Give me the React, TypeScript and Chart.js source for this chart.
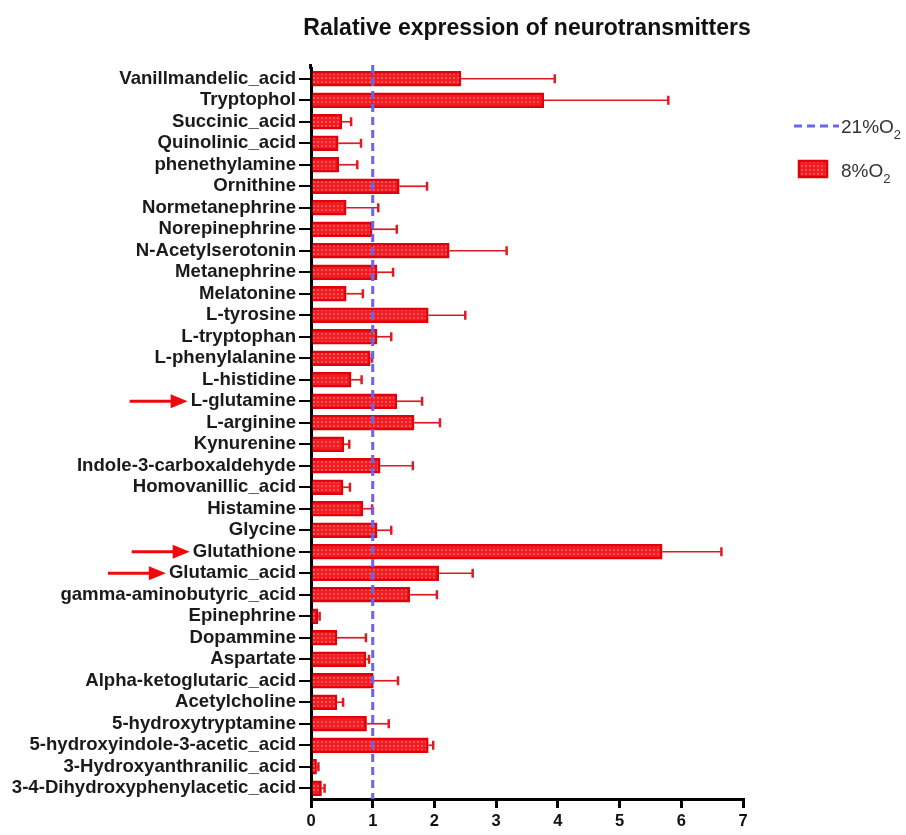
import React, { useEffect, useRef } from "react";
import { Chart, registerables } from "chart.js";

Chart.register(...registerables);

const categories = [
  "Vanillmandelic_acid",
  "Tryptophol",
  "Succinic_acid",
  "Quinolinic_acid",
  "phenethylamine",
  "Ornithine",
  "Normetanephrine",
  "Norepinephrine",
  "N-Acetylserotonin",
  "Metanephrine",
  "Melatonine",
  "L-tyrosine",
  "L-tryptophan",
  "L-phenylalanine",
  "L-histidine",
  "L-glutamine",
  "L-arginine",
  "Kynurenine",
  "Indole-3-carboxaldehyde",
  "Homovanillic_acid",
  "Histamine",
  "Glycine",
  "Glutathione",
  "Glutamic_acid",
  "gamma-aminobutyric_acid",
  "Epinephrine",
  "Dopammine",
  "Aspartate",
  "Alpha-ketoglutaric_acid",
  "Acetylcholine",
  "5-hydroxytryptamine",
  "5-hydroxyindole-3-acetic_acid",
  "3-Hydroxyanthranilic_acid",
  "3-4-Dihydroxyphenylacetic_acid",
];

const means = [
  2.43, 3.77, 0.5, 0.44, 0.45, 1.43, 0.57, 0.99, 2.24, 1.07, 0.57, 1.9, 1.07,
  0.96, 0.65, 1.39, 1.67, 0.53, 1.12, 0.52, 0.84, 1.07, 5.69, 2.07, 1.6, 0.11,
  0.42, 0.89, 1.01, 0.42, 0.9, 1.9, 0.09, 0.17,
];

const upperErr = [
  3.95, 5.79, 0.65, 0.81, 0.75, 1.88, 1.09, 1.39, 3.17, 1.33, 0.84, 2.5, 1.3,
  0.99, 0.82, 1.8, 2.09, 0.62, 1.65, 0.63, 0.99, 1.3, 6.65, 2.62, 2.04, 0.14,
  0.89, 0.94, 1.41, 0.52, 1.26, 1.98, 0.12, 0.22,
];

const xTicks = [0, 1, 2, 3, 4, 5, 6, 7];
const controlValue = 1;
const arrowLabels = ["L-glutamine", "Glutathione", "Glutamic_acid"];
const titleText = "Ralative expression of neurotransmitters";
const legendControl = "21%O";
const legendTreated = "8%O";

const FONT = "'Liberation Sans', Arial, Helvetica, sans-serif";
const BLUE = "#6666ee";
const RED_BORDER = "#e2000a";
const ERR_RED = "#e01a22";

function makePattern(): CanvasPattern | string {
  const c = document.createElement("canvas");
  c.width = 4;
  c.height = 4;
  const g = c.getContext("2d");
  if (!g) return "#f21c22";
  g.fillStyle = "#f21c22";
  g.fillRect(0, 0, 4, 4);
  g.fillStyle = "#ff5252";
  g.fillRect(1, 1, 2, 2);
  const p = g.createPattern(c, "repeat");
  return p || "#f21c22";
}

export default function App() {
  const ref = useRef<HTMLCanvasElement | null>(null);

  useEffect(() => {
    if (!ref.current) return;
    const pattern = makePattern();
    const tickLen = 12;
    const tickPad = 3;
    const labelFont = { family: FONT, size: 18.6, weight: "bold" as const };

    const overlay = {
      id: "overlay",
      afterDatasetsDraw(chart: any) {
        const ctx = chart.ctx;
        const xs = chart.scales.x;
        const meta = chart.getDatasetMeta(0);
        const area = chart.chartArea;
        ctx.save();
        // small extension of the y axis line above the first band
        ctx.strokeStyle = "#000";
        ctx.lineWidth = 3;
        ctx.beginPath();
        ctx.moveTo(area.left - 0.5, area.top - 4);
        ctx.lineTo(area.left - 0.5, area.top + 1);
        ctx.stroke();
        // error bars
        ctx.strokeStyle = ERR_RED;
        for (let i = 0; i < means.length; i++) {
          const el = meta.data[i];
          if (!el) continue;
          const y = el.y;
          const x0 = xs.getPixelForValue(means[i]);
          const x1 = xs.getPixelForValue(upperErr[i]);
          ctx.lineWidth = 1.7;
          ctx.beginPath();
          ctx.moveTo(x0, y);
          ctx.lineTo(x1, y);
          ctx.stroke();
          ctx.lineWidth = 2.5;
          ctx.beginPath();
          ctx.moveTo(x1, y - 4.5);
          ctx.lineTo(x1, y + 4.5);
          ctx.stroke();
        }
        // dashed control line
        const cx = xs.getPixelForValue(controlValue);
        ctx.strokeStyle = BLUE;
        ctx.lineWidth = 3;
        ctx.setLineDash([8, 5]);
        ctx.beginPath();
        ctx.moveTo(cx, area.top - 3);
        ctx.lineTo(cx, area.bottom);
        ctx.stroke();
        ctx.setLineDash([]);
        ctx.restore();
      },
      afterDraw(chart: any) {
        const ctx = chart.ctx;
        const area = chart.chartArea;
        const ys = chart.scales.y;
        ctx.save();
        // title
        ctx.fillStyle = "#111";
        ctx.font = `bold 23px ${FONT}`;
        ctx.textAlign = "center";
        ctx.textBaseline = "alphabetic";
        ctx.fillText(titleText, (area.left + area.right) / 2, 35);

        // arrows
        ctx.font = `bold ${labelFont.size}px ${FONT}`;
        const labelRight = area.left - tickLen - tickPad;
        ctx.fillStyle = "#ee0a0a";
        ctx.strokeStyle = "#ee0a0a";
        for (const lab of arrowLabels) {
          const idx = categories.indexOf(lab);
          if (idx < 0) continue;
          const y = ys.getPixelForValue(idx);
          const w = ctx.measureText(lab).width;
          const tip = labelRight - w - 3;
          const headLen = 17;
          const total = 58;
          ctx.lineWidth = 3;
          ctx.beginPath();
          ctx.moveTo(tip - total, y);
          ctx.lineTo(tip - headLen + 2, y);
          ctx.stroke();
          ctx.beginPath();
          ctx.moveTo(tip, y);
          ctx.lineTo(tip - headLen, y - 7);
          ctx.lineTo(tip - headLen, y + 7);
          ctx.closePath();
          ctx.fill();
        }

        // legend
        ctx.textAlign = "left";
        ctx.strokeStyle = BLUE;
        ctx.lineWidth = 3;
        ctx.setLineDash([8, 5]);
        ctx.beginPath();
        ctx.moveTo(794, 126);
        ctx.lineTo(839, 126);
        ctx.stroke();
        ctx.setLineDash([]);
        ctx.fillStyle = "#333";
        ctx.font = `19px ${FONT}`;
        ctx.fillText(legendControl, 841, 133);
        const w1 = ctx.measureText(legendControl).width;
        ctx.font = `13px ${FONT}`;
        ctx.fillText("2", 841 + w1, 139);

        ctx.fillStyle = pattern as any;
        ctx.fillRect(799, 161, 28, 16);
        ctx.strokeStyle = RED_BORDER;
        ctx.lineWidth = 2.5;
        ctx.strokeRect(799, 161, 28, 16);
        ctx.fillStyle = "#333";
        ctx.font = `19px ${FONT}`;
        ctx.fillText(legendTreated, 841, 177);
        const w2 = ctx.measureText(legendTreated).width;
        ctx.font = `13px ${FONT}`;
        ctx.fillText("2", 841 + w2, 183);
        ctx.restore();
      },
    };

    const chart = new Chart(ref.current, {
      type: "bar",
      data: {
        labels: categories,
        datasets: [
          {
            label: "8%O2",
            data: means,
            backgroundColor: pattern as any,
            borderColor: RED_BORDER,
            borderWidth: 2.5,
            barThickness: 15,
          },
        ],
      },
      options: {
        indexAxis: "y",
        animation: false,
        responsive: false,
        layout: { padding: { top: 68, right: 163, bottom: 0, left: 0 } },
        plugins: {
          legend: { display: false },
          tooltip: { enabled: false },
          title: { display: false },
        },
        scales: {
          x: {
            type: "linear",
            min: 0,
            max: 7,
            afterFit(scale: any) {
              scale.height = 36;
            },
            afterBuildTicks(scale: any) {
              scale.ticks = xTicks.map((v) => ({ value: v }));
            },
            ticks: {
              color: "#111",
              font: { family: FONT, size: 16.5, weight: "bold" },
              padding: 4,
            },
            grid: {
              drawOnChartArea: false,
              drawTicks: true,
              tickLength: 9,
              color: "#000",
              lineWidth: 3,
            },
            border: { display: true, color: "#000", width: 3 },
          },
          y: {
            type: "category",
            offset: true,
            afterFit(scale: any) {
              scale.width = 311;
            },
            ticks: {
              color: "#1a1a1a",
              font: labelFont,
              padding: tickPad,
              autoSkip: false,
            },
            grid: {
              offset: false,
              drawOnChartArea: false,
              drawTicks: true,
              tickLength: tickLen,
              color: "#000",
              lineWidth: 2,
            },
            border: { display: true, color: "#000", width: 3 },
          },
        },
      },
      plugins: [overlay],
    });

    return () => chart.destroy();
  }, []);

  return (
    <div style={{ position: "absolute", left: 0, top: 0, width: 906, height: 835, background: "#fff" }}>
      <canvas ref={ref} width={906} height={835} />
    </div>
  );
}
